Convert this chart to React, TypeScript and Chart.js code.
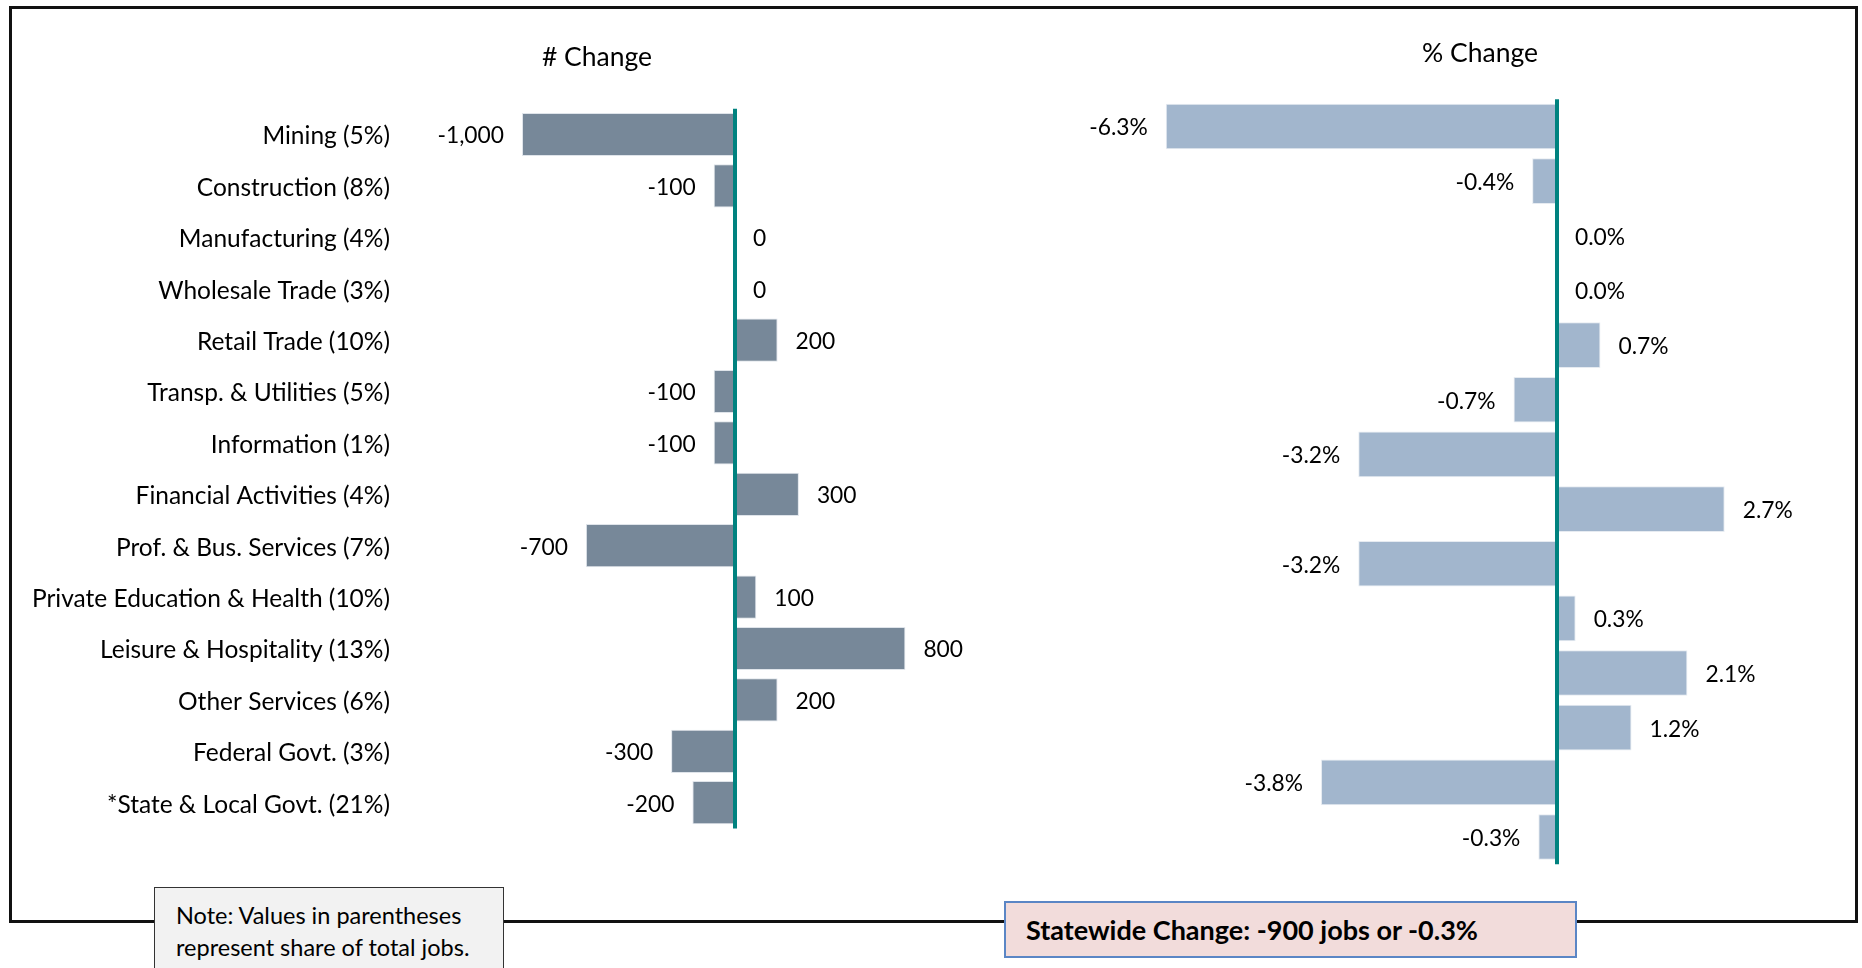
import React, { useEffect, useRef } from "react";
import { Chart, registerables } from "chart.js";

Chart.register(...registerables);

const categories = [
  "Mining (5%)",
  "Construction (8%)",
  "Manufacturing (4%)",
  "Wholesale Trade (3%)",
  "Retail Trade (10%)",
  "Transp. & Utilities (5%)",
  "Information (1%)",
  "Financial Activities (4%)",
  "Prof. & Bus. Services (7%)",
  "Private Education & Health (10%)",
  "Leisure & Hospitality (13%)",
  "Other Services (6%)",
  "Federal Govt. (3%)",
  "*State & Local Govt. (21%)",
];
const jobChange = [-1000, -100, 0, 0, 200, -100, -100, 300, -700, 100, 800, 200, -300, -200];
const pctChange = [-6.3, -0.4, 0.0, 0.0, 0.7, -0.7, -3.2, 2.7, -3.2, 0.3, 2.1, 1.2, -3.8, -0.3];
const panelTitles = ["# Change", "% Change"];
const noteLines = ["Note: Values in parentheses", "represent share of total jobs."];
const statewideText = "Statewide Change: -900 jobs or -0.3%";
const jobAxisRange = [-1500, 1000];
const pctAxisRange = [-7, 4];

const FONT = "Lato, 'Open Sans', sans-serif";
const LABEL_SIZE = 24.5;
const VALUE_SIZE = 22.8;

function makeOverlay(fmt: (v: number) => string) {
  return {
    id: "overlay",
    afterDatasetsDraw(chart: any) {
      const ctx = chart.ctx;
      const xs = chart.scales.x;
      const area = chart.chartArea;
      const x0 = xs.getPixelForValue(0);
      ctx.save();
      ctx.strokeStyle = "#00827f";
      ctx.lineWidth = 4;
      ctx.beginPath();
      ctx.moveTo(x0, area.top);
      ctx.lineTo(x0, area.bottom);
      ctx.stroke();
      const meta = chart.getDatasetMeta(0);
      const data = chart.data.datasets[0].data as number[];
      ctx.font = `${VALUE_SIZE}px ${FONT}`;
      ctx.fillStyle = "#000";
      ctx.textBaseline = "middle";
      meta.data.forEach((el: any, i: number) => {
        const v = data[i];
        const { x, y } = el.getProps(["x", "y"], true);
        if (v < 0) {
          ctx.textAlign = "right";
          ctx.fillText(fmt(v), x - 18, y + 1.5);
        } else {
          ctx.textAlign = "left";
          ctx.fillText(fmt(v), x + 18, y + 1.5);
        }
      });
      ctx.restore();
    },
  };
}

export default function App() {
  const leftRef = useRef<HTMLCanvasElement>(null);
  const rightRef = useRef<HTMLCanvasElement>(null);

  useEffect(() => {
    const left = new Chart(leftRef.current!, {
      type: "bar",
      data: {
        labels: categories,
        datasets: [
          {
            data: jobChange,
            backgroundColor: "#778899",
            borderColor: "#dfe4ea",
            borderWidth: 1,
            barPercentage: 0.84,
            categoryPercentage: 1,
          },
        ],
      },
      options: {
        indexAxis: "y",
        animation: false,
        responsive: false,
        maintainAspectRatio: false,
        layout: { padding: { left: 0, right: 52, top: 108.8, bottom: 139.6 } },
        plugins: { legend: { display: false }, tooltip: { enabled: false } },
        scales: {
          x: { display: false, min: jobAxisRange[0], max: jobAxisRange[1] },
          y: {
            grid: { display: false, drawTicks: false },
            border: { display: false },
            ticks: {
              color: "#000",
              font: { family: FONT, size: LABEL_SIZE },
              padding: 25.5,
              autoSkip: false,
              labelOffset: 2,
            },
            afterFit: (s: any) => {
              s.width = 415.5;
            },
          },
        },
      },
      plugins: [makeOverlay((v) => v.toLocaleString("en-US"))],
    } as any);

    const right = new Chart(rightRef.current!, {
      type: "bar",
      data: {
        labels: categories,
        datasets: [
          {
            data: pctChange,
            backgroundColor: "#a2b6cd",
            borderColor: "#e6ebf1",
            borderWidth: 1,
            barPercentage: 0.835,
            categoryPercentage: 1,
          },
        ],
      },
      options: {
        indexAxis: "y",
        animation: false,
        responsive: false,
        maintainAspectRatio: false,
        layout: { padding: { left: 122.3, right: 56.6, top: 99.2, bottom: 103.7 } },
        plugins: { legend: { display: false }, tooltip: { enabled: false } },
        scales: {
          x: { display: false, min: pctAxisRange[0], max: pctAxisRange[1] },
          y: { display: false },
        },
      },
      plugins: [makeOverlay((v) => v.toFixed(1) + "%")],
    } as any);

    return () => {
      left.destroy();
      right.destroy();
    };
  }, []);

  const abs: React.CSSProperties = { position: "absolute" };

  return (
    <div
      style={{
        position: "fixed",
        left: 0,
        top: 0,
        width: 1862,
        height: 968,
        overflow: "hidden",
        background: "#fff",
        fontFamily: FONT,
      }}
    >
      <div
        style={{
          ...abs,
          left: 9,
          top: 6,
          width: 1849,
          height: 917,
          border: "3px solid #111",
          boxSizing: "border-box",
        }}
      />
      <canvas ref={leftRef} width={1000} height={968} style={{ ...abs, left: 0, top: 0, width: 1000, height: 968 }} />
      <canvas ref={rightRef} width={862} height={968} style={{ ...abs, left: 1000, top: 0, width: 862, height: 968 }} />
      <div style={{ ...abs, left: 497, width: 200, top: 38, textAlign: "center", fontSize: 26.5, lineHeight: "36px", color: "#000" }}>
        {panelTitles[0]}
      </div>
      <div style={{ ...abs, left: 1380, width: 200, top: 34, textAlign: "center", fontSize: 26.5, lineHeight: "36px", color: "#000" }}>
        {panelTitles[1]}
      </div>
      <div
        style={{
          ...abs,
          left: 154,
          top: 887,
          width: 350,
          height: 100,
          background: "#f2f2f2",
          border: "1.5px solid #333",
          boxSizing: "border-box",
          paddingLeft: 21,
          paddingTop: 11,
          fontSize: 23.5,
          lineHeight: "32px",
          color: "#000",
        }}
      >
        <div>{noteLines[0]}</div>
        <div>{noteLines[1]}</div>
      </div>
      <div
        style={{
          ...abs,
          left: 1004,
          top: 901,
          width: 573,
          height: 57,
          background: "#f2dcdb",
          border: "2px solid #5b86c5",
          boxSizing: "border-box",
          paddingLeft: 20,
          fontSize: 27,
          fontWeight: 700,
          lineHeight: "53px",
          color: "#000",
          whiteSpace: "nowrap",
        }}
      >
        {statewideText}
      </div>
    </div>
  );
}
